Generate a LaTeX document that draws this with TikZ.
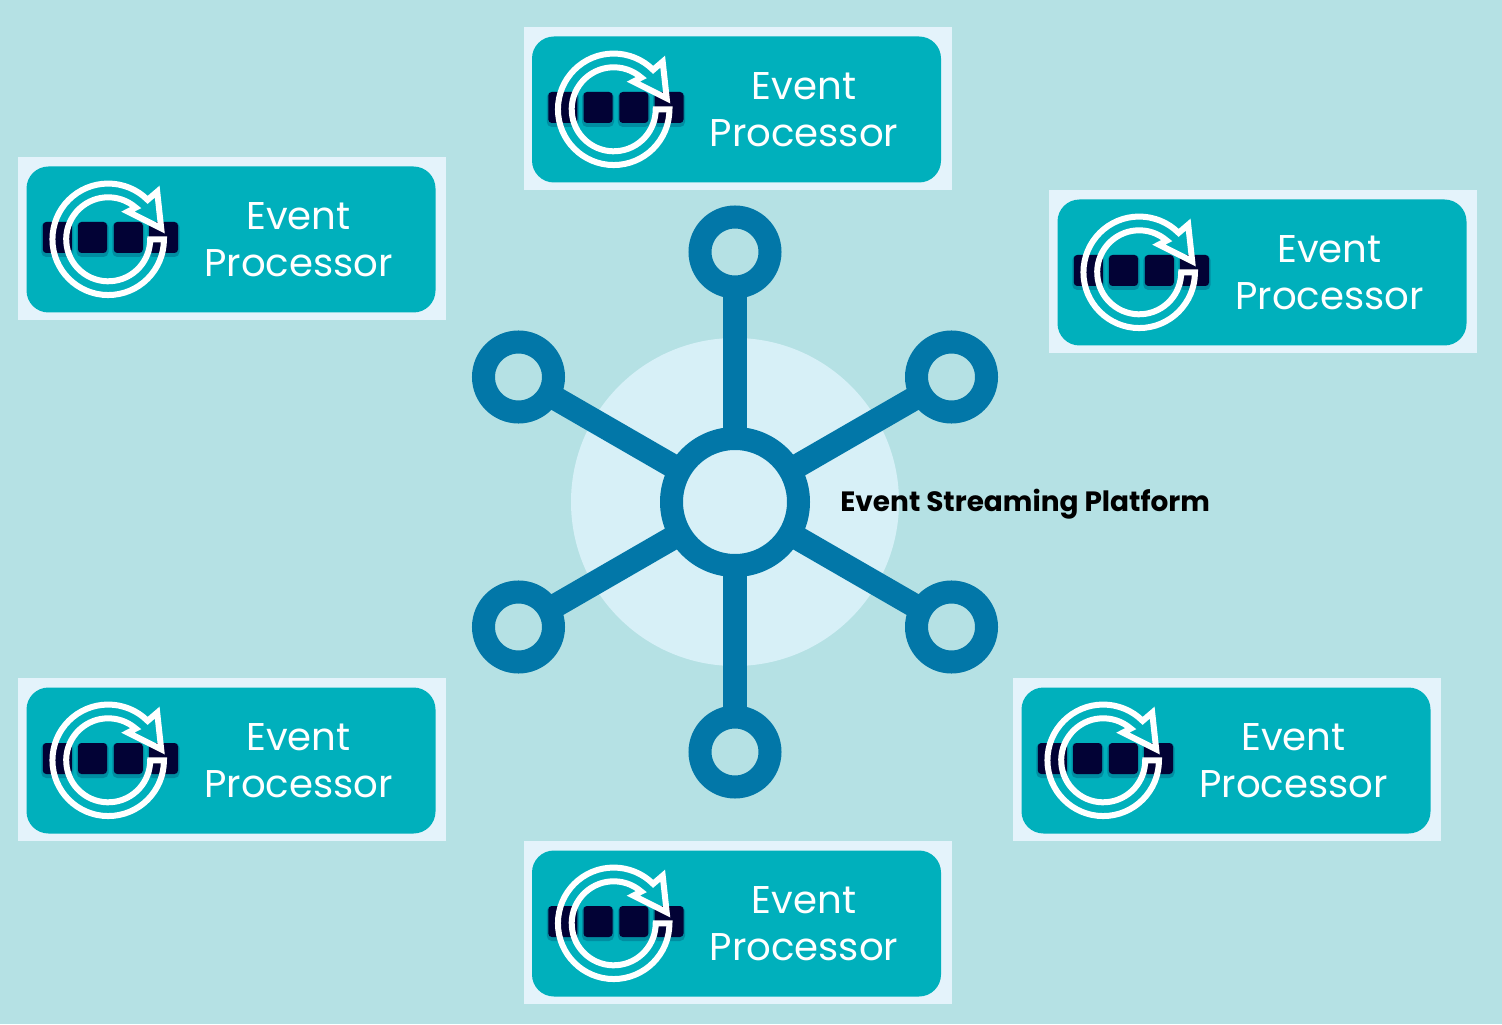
\documentclass[tikz,border=0pt]{standalone}
\usepackage{fontspec}
\setmainfont{Poppins}
\definecolor{bgteal}{HTML}{B5E1E4}
\definecolor{paleblue}{HTML}{E4F3FB}
\definecolor{discblue}{HTML}{D7F0F7}
\definecolor{boxteal}{HTML}{00B0BC}
\definecolor{hubblue}{HTML}{0277A8}
\definecolor{slotnavy}{HTML}{020235}
\tikzset{
	hubring/.style={circle, draw=hubblue, line width=0.46cm, fill=discblue, minimum size=2.54cm, inner sep=0pt, outer sep=0pt},
	satring/.style={circle, draw=hubblue, line width=0.46cm, fill=bgteal, minimum size=1.4cm, inner sep=0pt, outer sep=0pt},
	spoke/.style={draw=hubblue, line width=0.48cm},
	slot/.style={fill=slotnavy, rounded corners=0.07cm},
	pics/evproc/.style={code={
		% Lys ramme og boks
		\node[fill=paleblue, minimum width=8.56cm, minimum height=3.26cm, inner sep=0pt] (-frame) at (0,0) {};
		\node[fill=boxteal, rounded corners=0.44cm, minimum width=8.18cm, minimum height=2.92cm, inner sep=0pt] (-box) at (-0.02,-0.02) {};
		% Ruter med skygge
		\foreach \sx in {-3.494,-2.79,-2.074,-1.37} {
			\fill[slotnavy, opacity=0.2, rounded corners=0.1cm] (\sx-0.32,-0.37) rectangle (\sx+0.32,0.33);
			\fill[slot] (\sx-0.29,-0.29) rectangle (\sx+0.29,0.33);
		}
		% Sirkulaer pil
		\draw[white, line width=0.12cm, line join=miter, shift={(-2.476,-0.016)}]
			(0:1.115) arc (0:-315:1.115) -- (0.98,0.953) -- (1.06,0.22) -- (0.393,0.553)
			-- (49:0.84) arc (49:360:0.84) -- cycle;
		% Tekst
		\node[white, font=\fontsize{22}{26.6}\selectfont, align=center] (-text) at (1.33,-0.03) {Event\\Processor};
	}}
}
\begin{document}
\begin{tikzpicture}
	\useasboundingbox[fill=bgteal] (0,0) rectangle (30.04,20.48);

	% Lys skive bak navet
	\fill[discblue] (14.7,10.44) circle (3.28);

	% Nav og satellitter
	\node[hubring] (hub) at (14.7,10.44) {};
	\foreach \a in {30,90,...,330}
		\node[satring] (sat\a) at ([shift={(\a:5)}]hub.center) {};
	\foreach \a in {30,90,...,330}
		\draw[spoke] (hub) -- (sat\a);

	\node[font=\fontsize{15.9}{18}\selectfont\bfseries, anchor=west, inner sep=0pt] (platform) at (16.8,10.39) {Event Streaming Platform};

	% Prosessorbokser
	\pic (top) at (14.75,18.31) {evproc};
	\pic (upleft) at (4.64,15.71) {evproc};
	\pic (upright) at (25.26,15.05) {evproc};
	\pic (lowleft) at (4.64,5.29) {evproc};
	\pic (lowright) at (24.54,5.29) {evproc};
	\pic (bottom) at (14.75,2.03) {evproc};
\end{tikzpicture}
\end{document}
